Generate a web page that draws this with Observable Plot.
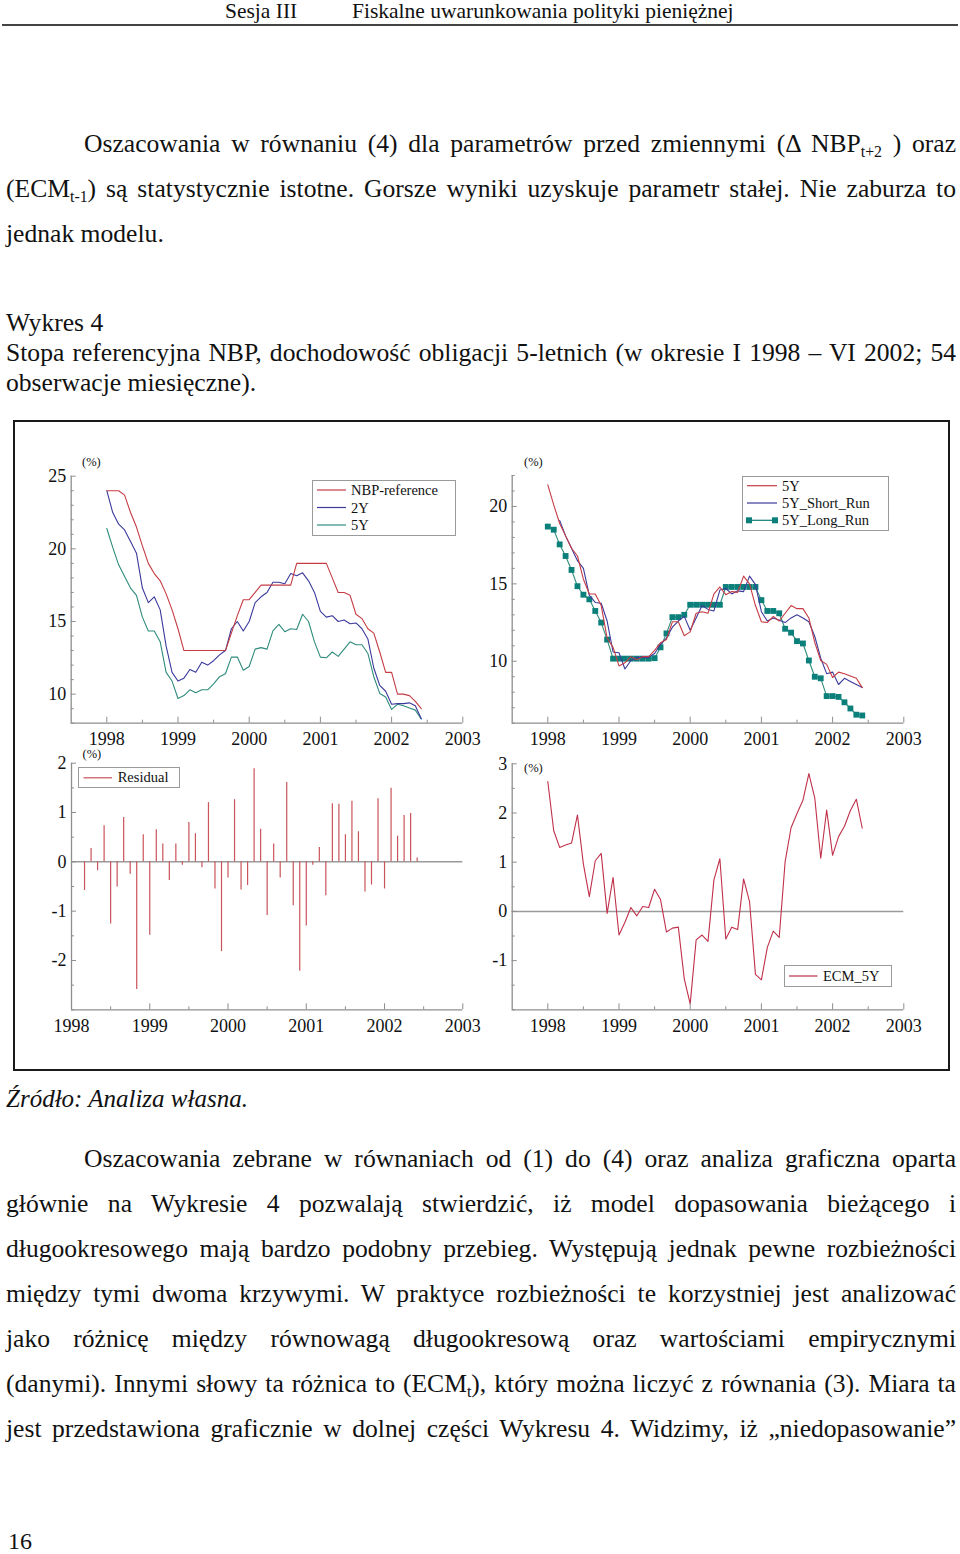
<!DOCTYPE html>
<html><head><meta charset="utf-8">
<script src="https://cdn.jsdelivr.net/npm/d3@7"></script>
<script src="https://cdn.jsdelivr.net/npm/@observablehq/plot@0.6"></script>
<style>
html,body{margin:0;padding:0;background:#fff;}
#page{position:relative;width:960px;height:1554px;overflow:hidden;font-family:"Liberation Serif","Times New Roman",serif;color:#111;}
.t{position:absolute;white-space:nowrap;}
sub{font-size:0.62em;vertical-align:-0.3em;line-height:0;}
.plotwrap{position:absolute;}
.plotwrap svg{overflow:visible;}
</style></head><body><div id="page"></div>
<script>
// ---------------- DATA (monthly, Jan 1998 = index 0 ... Jun 2002 = index 53) ----------------
const startYear = 1998;
const yearTicks = [1998, 1999, 2000, 2001, 2002, 2003];
const halfTicks = [1998.5, 1999.5, 2000.5, 2001.5, 2002.5];

const nbpReference = [24,24,24,23.7,22.5,21.5,20.2,19.0,18.3,17.8,16.9,15.8,14.5,13.0,
  13,13,13,13,13,13,13,14.2,15.4,16.5,16.5,17.0,17.5,17.5,17.5,17.5,17.5,17.5,
  19,19,19,19,19,19,18.0,17.0,17.0,16.8,15.5,15.2,14.5,14.2,12.9,11.5,11.5,10.0,10.0,9.9,9.5,9.0];
const y2 = [24.0,22.5,21.7,21.3,20.5,19.7,17.3,16.3,16.7,15.8,
  13.3,11.5,10.9,11.1,11.7,11.5,12.2,12.0,12.3,12.7,
  13.0,14.5,15.0,14.35,15.0,16.3,16.7,17.0,17.7,17.7,
  17.6,18.3,18.15,18.35,17.8,17.0,15.7,15.3,15.4,15.0,
  15.1,14.85,14.9,14.5,13.8,11.8,10.6,10.2,9.3,9.35,
  9.35,9.4,9.2,8.3];
const y5 = [21.4,20.1,18.9,18.1,17.3,16.8,15.3,14.35,14.35,13.6,
  11.5,10.9,9.7,9.9,10.3,10.1,10.3,10.3,10.7,11.2,
  11.4,12.55,12.55,11.65,11.9,13.1,13.2,13.1,14.35,14.8,
  14.3,14.5,14.45,15.5,15.0,13.6,12.55,12.5,12.9,12.6,
  13.1,13.6,13.4,13.4,12.8,11.2,10.05,9.8,8.95,9.3,
  9.2,9.05,8.9,8.3];
// 5Y_Short_Run starts at index 2 (Mar 1998)
const shortRunStart = 2;
const y5ShortRun = [19.1,18.1,17.3,16.5,16.0,14.25,13.8,13.75,12.6,10.6,
  10.55,9.5,10.05,10.25,10.25,10.25,10.5,11.1,11.5,12.2,
  12.6,12.9,12.0,12.8,13.6,13.35,13.25,14.6,14.7,14.35,
  14.55,14.5,15.5,14.95,13.2,12.6,12.8,12.65,12.5,12.8,
  13.0,12.8,12.55,11.6,10.2,9.2,9.3,8.5,8.9,8.7,
  8.5,8.3];
const y5LongRun = [18.7,18.5,17.55,16.8,15.9,14.85,14.3,14.0,13.25,12.5,
  11.4,10.17,10.17,10.17,10.17,10.17,10.17,10.17,10.2,10.9,
  11.8,12.85,12.85,13.0,13.65,13.65,13.65,13.65,13.65,13.65,
  14.8,14.8,14.8,14.8,14.8,14.8,13.95,13.25,13.25,13.1,
  12.1,11.85,11.3,11.15,10.05,9.0,8.9,7.75,7.75,7.7,
  7.35,6.95,6.55,6.5];
// Residual starts at index 2 (Mar 1998)
const residualStart = 2;
const residual = [-0.58,0.27,-0.18,0.73,-1.26,-0.51,0.90,-0.25,-2.59,0.55,
  -1.49,0.65,0.36,-0.38,0.36,-0.07,0.80,0.57,-0.12,1.20,
  -0.55,-1.82,-0.33,1.26,-0.57,-0.48,1.89,0.66,-1.09,0.36,
  -0.33,1.61,-0.89,-2.22,-1.30,-0.07,0.29,-0.69,1.18,1.17,
  0.55,1.23,0.61,-0.61,-0.47,1.28,-0.55,1.49,0.52,0.94,
  0.98,0.08];
const ecm5Y = [2.64,1.64,1.30,1.35,1.39,1.96,0.96,0.30,1.03,1.18,
  -0.04,0.69,-0.48,-0.22,0.08,-0.09,0.10,0.08,0.45,0.24,
  -0.42,-0.34,-0.32,-1.37,-1.88,-0.58,-0.48,-0.61,0.64,1.07,
  -0.56,-0.32,-0.37,0.66,0.20,-1.28,-1.39,-0.73,-0.40,-0.53,
  1.01,1.70,1.99,2.26,2.80,2.30,1.08,2.06,1.14,1.52,
  1.73,2.05,2.28,1.69];

// ---------------- helpers ----------------
const toRows = (arr, offset = 0) => arr.map((v, i) => ({t: startYear + (i + offset) / 12, v}));
const RED = "#c63c44", BLUE = "#3b3a9c", TEAL = "#2f8c7c", LR = "#0b7f7a", RESID = "#c9545a", ECMC = "#c0304a";
const AX = "#8e8e8e";
const page = document.getElementById("page");
const SVGNS = "http://www.w3.org/2000/svg";

function text(html, {left, cy, fs, right = null, italic = false}) {
  const s = document.createElement("span");
  s.className = "t";
  s.innerHTML = html;
  s.style.left = left + "px";
  s.style.fontSize = fs + "px";
  s.style.lineHeight = (fs * 1.15) + "px";
  s.style.top = (cy - 0.61 * fs) + "px";
  if (italic) s.style.fontStyle = "italic";
  page.appendChild(s);
  if (right != null) {
    const w = s.getBoundingClientRect().width;
    const n = (s.textContent.match(/ /g) || []).length;
    if (n) s.style.wordSpacing = (((right - left) - w) / n) + "px";
  }
  return s;
}

function box(left, top, width, height, css) {
  const d = document.createElement("div");
  d.style.position = "absolute";
  d.style.left = left + "px"; d.style.top = top + "px";
  d.style.width = width + "px"; d.style.height = height + "px";
  Object.assign(d.style, css || {});
  page.appendChild(d);
  return d;
}

function panel(cfg) {
  const {left, top, width, height, ml, mr, mt, mb, xdom, ydom, ylabels, ystep, marks} = cfg;
  const iw = width - ml - mr, ih = height - mt - mb;
  const yt = d3.range(Math.ceil(ydom[0] / ystep) * ystep, ydom[1] + 1e-9, ystep);
  const major = yt.filter(v => ylabels.includes(v));
  const minor = yt.filter(v => !ylabels.includes(v));
  const svg = Plot.plot({
    width, height, marginLeft: ml, marginRight: mr, marginTop: mt, marginBottom: mb,
    x: {type: "linear", domain: xdom},
    y: {type: "linear", domain: ydom},
    style: {background: "transparent", fontFamily: '"Liberation Serif", serif', fontSize: "18px", color: "#111", overflow: "visible"},
    marks: [
      ...marks,
      Plot.ruleY([ydom[0]], {stroke: AX, strokeWidth: 1.3}),
      Plot.ruleX([xdom[0]], {stroke: AX, strokeWidth: 1.3}),
      Plot.tickX(yearTicks, {x: d => d, stroke: AX, insetTop: ih - 6}),
      Plot.tickX(halfTicks, {x: d => d, stroke: AX, insetTop: ih - 3}),
      Plot.tickY(major, {y: d => d, stroke: AX, insetRight: iw - 5}),
      Plot.tickY(minor, {y: d => d, stroke: AX, insetRight: iw - 3}),
      Plot.axisX({ticks: yearTicks, tickSize: 0, tickPadding: 9.5, tickFormat: d => String(d), label: null}),
      Plot.axisY({ticks: ylabels, tickSize: 0, tickPadding: 5, tickFormat: d => String(d), label: null})
    ]
  });
  const wrap = document.createElement("div");
  wrap.className = "plotwrap";
  wrap.style.left = left + "px"; wrap.style.top = top + "px";
  wrap.appendChild(svg);
  page.appendChild(wrap);
}

function legend(x0, y0, x1, y1, rows) {
  box(x0, y0, x1 - x0, y1 - y0, {border: "1px solid #9a9a9a", background: "#fff", boxSizing: "border-box"});
  const s = document.createElementNS(SVGNS, "svg");
  s.setAttribute("width", x1 - x0); s.setAttribute("height", y1 - y0);
  s.style.position = "absolute"; s.style.left = x0 + "px"; s.style.top = y0 + "px"; s.style.overflow = "visible";
  page.appendChild(s);
  for (const r of rows) {
    const l = document.createElementNS(SVGNS, "line");
    l.setAttribute("x1", r.lx0 - x0); l.setAttribute("x2", r.lx1 - x0);
    l.setAttribute("y1", r.cy - y0); l.setAttribute("y2", r.cy - y0);
    l.setAttribute("stroke", r.color); l.setAttribute("stroke-width", 1.2);
    s.appendChild(l);
    if (r.marker) {
      for (const mx of [r.lx0 + 2, r.lx1 - 2]) {
        const q = document.createElementNS(SVGNS, "rect");
        q.setAttribute("x", mx - 3 - x0); q.setAttribute("y", r.cy - 3 - y0);
        q.setAttribute("width", 6); q.setAttribute("height", 6);
        q.setAttribute("fill", r.color);
        s.appendChild(q);
      }
    }
    text(r.label, {left: r.tx, cy: r.cy + 1, fs: 14.5});
  }
}

// ---------------- page text ----------------
text("Sesja III", {left: 225, cy: 12, fs: 21.5});
text("Fiskalne uwarunkowania polityki pieniężnej", {left: 352, cy: 12, fs: 21.5});
box(2, 24, 956, 2, {background: "#444"});

const FS = 25.6;
text("Oszacowania w równaniu (4) dla parametrów przed zmiennymi (Δ NBP<sub>t+2</sub> ) oraz", {left: 84, cy: 145, fs: FS, right: 956});
text("(ECM<sub>t-1</sub>) są statystycznie istotne. Gorsze wyniki uzyskuje parametr stałej. Nie zaburza to", {left: 6, cy: 190, fs: FS, right: 956});
text("jednak modelu.", {left: 6, cy: 235, fs: FS});

text("Wykres 4", {left: 6, cy: 324, fs: FS});
text("Stopa referencyjna NBP, dochodowość obligacji 5-letnich (w okresie I 1998 – VI 2002; 54", {left: 6, cy: 354, fs: FS, right: 956});
text("obserwacje miesięczne).", {left: 6, cy: 384, fs: FS});

box(13, 420, 937, 651, {border: "2px solid #1a1a1a", boxSizing: "border-box"});

text("Źródło: Analiza własna.", {left: 6, cy: 1100, fs: 25, italic: true});

const paraLines = [
  "Oszacowania zebrane w równaniach od (1) do (4) oraz analiza graficzna oparta",
  "głównie na Wykresie 4 pozwalają stwierdzić, iż model dopasowania bieżącego i",
  "długookresowego mają bardzo podobny przebieg. Występują jednak pewne rozbieżności",
  "między tymi dwoma krzywymi. W praktyce rozbieżności te korzystniej jest analizować",
  "jako różnicę między równowagą długookresową oraz wartościami empirycznymi",
  "(danymi). Innymi słowy ta różnica to (ECM<sub>t</sub>), który można liczyć z równania (3). Miara ta",
  "jest przedstawiona graficznie w dolnej części Wykresu 4. Widzimy, iż „niedopasowanie”"
];
paraLines.forEach((l, i) => text(l, {left: i === 0 ? 84 : 6, cy: 1160 + 45 * i, fs: FS, right: 956}));
text("16", {left: 8, cy: 1543, fs: 24});

// ---------------- panels ----------------
// Panel 1: NBP-reference, 2Y, 5Y
panel({
  left: 20, top: 440, width: 460, height: 320, ml: 50.7, mr: 17.7, mt: 35.7, mb: 37.3,
  xdom: [1997.5, 2003], ydom: [8, 25], ylabels: [10, 15, 20, 25], ystep: 1,
  marks: [
    Plot.line(toRows(y5), {x: "t", y: "v", stroke: TEAL, strokeWidth: 1.1}),
    Plot.line(toRows(y2), {x: "t", y: "v", stroke: BLUE, strokeWidth: 1.1}),
    Plot.line(toRows(nbpReference), {x: "t", y: "v", stroke: RED, strokeWidth: 1.1})
  ]
});
// Panel 2: 5Y, 5Y_Short_Run, 5Y_Long_Run
panel({
  left: 470, top: 440, width: 460, height: 320, ml: 41.7, mr: 26.7, mt: 35, mb: 37.3,
  xdom: [1997.5, 2003], ydom: [6, 22], ylabels: [10, 15, 20], ystep: 1,
  marks: [
    Plot.line(toRows(y5LongRun), {x: "t", y: "v", stroke: TEAL, strokeWidth: 1.1}),
    Plot.dot(toRows(y5LongRun), {x: "t", y: "v", symbol: "square", r: 3.3, fill: LR, stroke: "none"}),
    Plot.line(toRows(y5ShortRun, shortRunStart), {x: "t", y: "v", stroke: BLUE, strokeWidth: 1.1}),
    Plot.line(toRows(y5), {x: "t", y: "v", stroke: RED, strokeWidth: 1.1})
  ]
});
// Panel 3: Residual
panel({
  left: 20, top: 745, width: 460, height: 305, ml: 51, mr: 17.7, mt: 17.7, mb: 40.7,
  xdom: [1998, 2003], ydom: [-3, 2], ylabels: [-2, -1, 0, 1, 2], ystep: 0.5,
  marks: [
    Plot.ruleY([0], {stroke: "#9a9a9a", strokeWidth: 1.5}),
    Plot.ruleX(toRows(residual, residualStart), {x: "t", y1: 0, y2: "v", stroke: RESID, strokeWidth: 1.2})
  ]
});
// Panel 4: ECM_5Y
panel({
  left: 470, top: 745, width: 460, height: 305, ml: 41.7, mr: 26.7, mt: 18.3, mb: 40.7,
  xdom: [1997.5, 2003], ydom: [-2, 3], ylabels: [-1, 0, 1, 2, 3], ystep: 0.5,
  marks: [
    Plot.ruleY([0], {stroke: "#9a9a9a", strokeWidth: 1.5}),
    Plot.line(toRows(ecm5Y), {x: "t", y: "v", stroke: ECMC, strokeWidth: 1.1})
  ]
});

// ---------------- legends & unit labels ----------------
legend(312, 480, 456, 536, [
  {label: "NBP-reference", color: RED, cy: 490, lx0: 317, lx1: 346, tx: 351},
  {label: "2Y", color: BLUE, cy: 507.5, lx0: 317, lx1: 346, tx: 351},
  {label: "5Y", color: TEAL, cy: 525, lx0: 317, lx1: 346, tx: 351}
]);
legend(742, 476, 889, 530.5, [
  {label: "5Y", color: RED, cy: 485.7, lx0: 747, lx1: 777, tx: 782},
  {label: "5Y_Short_Run", color: BLUE, cy: 503, lx0: 747, lx1: 777, tx: 782},
  {label: "5Y_Long_Run", color: LR, cy: 520.3, lx0: 747, lx1: 777, tx: 782, marker: true}
]);
legend(78, 766.5, 179.5, 787.5, [
  {label: "Residual", color: RESID, cy: 777.3, lx0: 83.5, lx1: 112, tx: 117.7}
]);
legend(784, 965, 892, 986.5, [
  {label: "ECM_5Y", color: ECMC, cy: 976, lx0: 789, lx1: 817.5, tx: 823}
]);
text("(%)", {left: 82, cy: 462.5, fs: 12.5});
text("(%)", {left: 524, cy: 462.5, fs: 12.5});
text("(%)", {left: 82.5, cy: 755, fs: 12.5});
text("(%)", {left: 524, cy: 769, fs: 12.5});
</script></body></html>
